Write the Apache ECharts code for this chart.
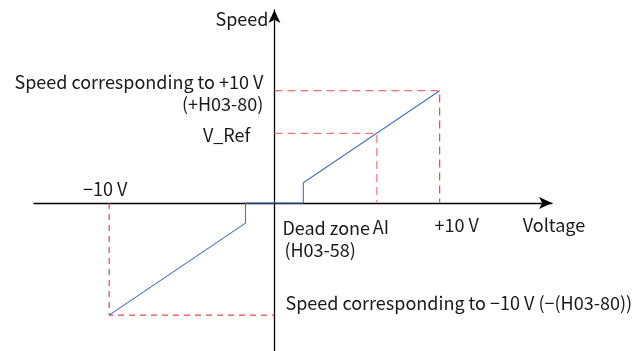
<!DOCTYPE html>
<html><head><meta charset="utf-8">
<script src="https://cdn.jsdelivr.net/npm/echarts@6/dist/echarts.min.js"></script>
<style>html,body{margin:0;padding:0;background:#fff}#c{width:638px;height:351px}</style>
</head><body><div id="c"></div>
<script>
// Characteristic values (volts on x, speed units on y)
var vMax = 10, vMin = -10;          // ±10 V
var deadZone = 1.75;                // H03-58
var jumpSpeed = 1.8;                // speed at dead-zone edge
var speedMax = 10, speedMin = -10;  // ±H03-80
var aiVolt = 6.2, vRef = 6.2;       // AI and V_Ref
var curve = [[vMin, speedMin], [-deadZone, -jumpSpeed], [-deadZone, 0], [deadZone, 0], [deadZone, jumpSpeed], [vMax, speedMax]];
var guideTop = [[0, speedMax], [vMax, speedMax], [vMax, 0]];
var guideRef = [[0, vRef], [aiVolt, vRef], [aiVolt, 0]];
var guideNeg = [[vMin, 0], [vMin, speedMin], [0, speedMin]];

var font = '"Noto Sans CJK SC","Noto Sans",sans-serif';
var chart = echarts.init(document.getElementById('c'));
var axisCommon = {
  type: 'value', splitLine: {show: false}, axisTick: {show: false}, axisLabel: {show: false},
  axisLine: {onZero: true, symbol: ['none', 'arrow'], symbolSize: [9, 13], lineStyle: {color: '#000', width: 1.3}}
};
chart.setOption({
  animation: false,
  grid: {left: 34, right: 86, top: 10, bottom: 0},
  xAxis: Object.assign({}, axisCommon, {min: -14.55, max: 16.8}),
  yAxis: Object.assign({}, axisCommon, {min: -13.2, max: 17.2}),
  series: [
    {type: 'line', data: curve, symbol: 'none', lineStyle: {color: '#4472c4', width: 1.1}, z: 5},
    {type: 'line', data: guideTop, symbol: 'none', lineStyle: {color: '#e84848', width: 1.2, type: [8, 5]}},
    {type: 'line', data: guideRef, symbol: 'none', lineStyle: {color: '#f07878', width: 1.2, type: [8, 5]}},
    {type: 'line', data: guideNeg, symbol: 'none', lineStyle: {color: '#e84848', width: 1.2, type: [6, 5]}}
  ]
});
function px(p) { return chart.convertToPixel({gridIndex: 0}, p); }
function txt(t, p, dx, dy, align) {
  var q = px(p);
  return {type: 'text', x: q[0] + dx, y: q[1] + dy, style: {text: t, font: '18px ' + font, fill: '#1a1a1a', align: align || 'left', verticalAlign: 'middle'}};
}
chart.setOption({graphic: [
  txt('Speed', [0, 17.2], -6, 9, 'right'),
  txt('Speed corresponding to +10 V', [0, speedMax], -11, -9, 'right'),
  txt('(+H03-80)', [0, speedMax], -11, 13, 'right'),
  txt('V_Ref', [0, vRef], -24, 2, 'right'),
  txt('\u221210 V', [vMin, 0], -4, -14, 'center'),
  txt('Dead zone', [0, 0], 8, 25, 'left'),
  txt('(H03-58)', [0, 0], 10, 47, 'left'),
  txt('AI', [aiVolt, 0], 4, 24, 'center'),
  txt('+10 V', [vMax, 0], 17, 22, 'center'),
  txt('Voltage', [16.8, 0], 2, 22, 'center'),
  txt('Speed corresponding to \u221210 V (\u2212(H03-80))', [0, speedMin], 11, -12, 'left')
]});
</script></body></html>
